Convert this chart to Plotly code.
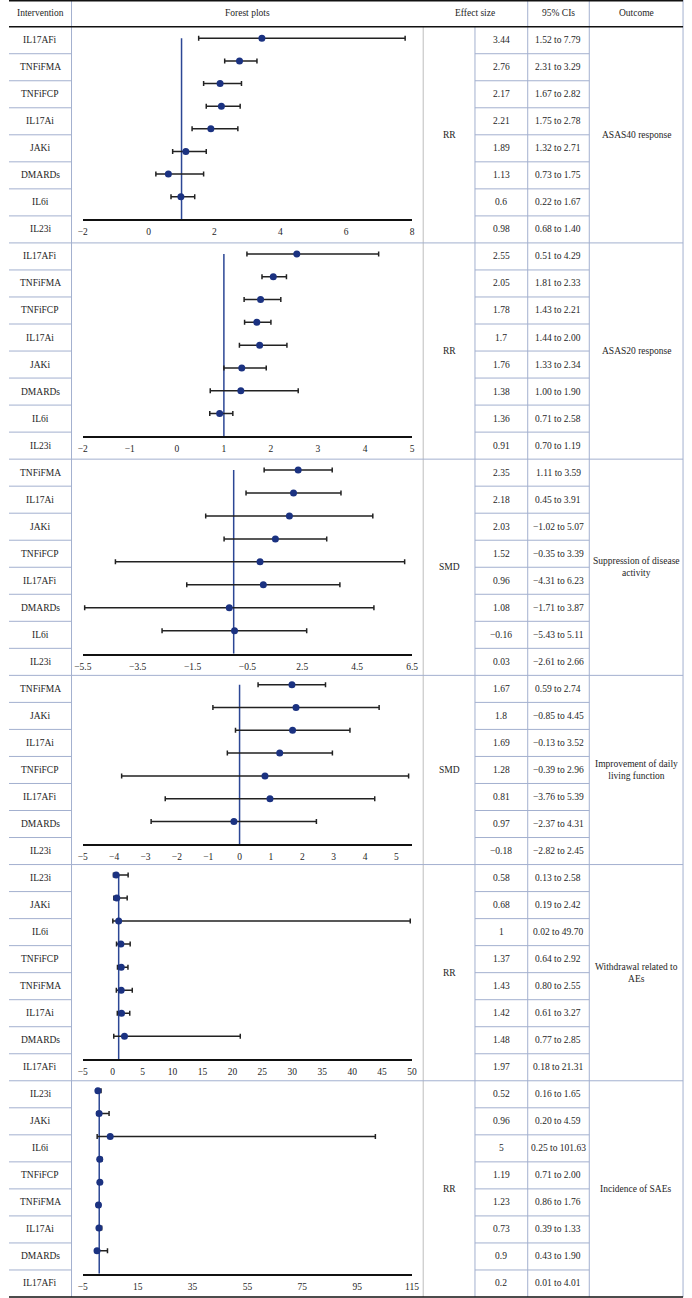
import plotly.graph_objects as go
import numpy as np

# ---------------- data ----------------
outcomes = ["ASAS40 response", "ASAS20 response",
            "Suppression of disease<br>activity",
            "Improvement of daily<br>living function",
            "Withdrawal related to<br>AEs", "Incidence of SAEs"]
measures = ["RR", "RR", "SMD", "SMD", "RR", "RR"]

p1_names = ["IL17AFi", "TNFiFMA", "TNFiFCP", "IL17Ai", "JAKi", "DMARDs", "IL6i", "IL23i"]
p1_eff_txt = ["3.44", "2.76", "2.17", "2.21", "1.89", "1.13", "0.6", "0.98"]
p1_ci_txt = ["1.52 to 7.79", "2.31 to 3.29", "1.67 to 2.82", "1.75 to 2.78",
             "1.32 to 2.71", "0.73 to 1.75", "0.22 to 1.67", "0.68 to 1.40"]
p1_est = [3.44, 2.76, 2.17, 2.21, 1.89, 1.13, 0.6, 0.98]
p1_lo = [1.52, 2.31, 1.67, 1.75, 1.32, 0.73, 0.22, 0.68]
p1_hi = [7.79, 3.29, 2.82, 2.78, 2.71, 1.75, 1.67, 1.40]

p2_names = ["IL17AFi", "TNFiFMA", "TNFiFCP", "IL17Ai", "JAKi", "DMARDs", "IL6i", "IL23i"]
p2_eff_txt = ["2.55", "2.05", "1.78", "1.7", "1.76", "1.38", "1.36", "0.91"]
p2_ci_txt = ["0.51 to 4.29", "1.81 to 2.33", "1.43 to 2.21", "1.44 to 2.00",
             "1.33 to 2.34", "1.00 to 1.90", "0.71 to 2.58", "0.70 to 1.19"]
p2_est = [2.55, 2.05, 1.78, 1.7, 1.76, 1.38, 1.36, 0.91]
p2_lo = [1.49, 1.81, 1.43, 1.44, 1.33, 1.00, 0.71, 0.70]
p2_hi = [4.29, 2.33, 2.21, 2.00, 2.34, 1.90, 2.58, 1.19]

p3_names = ["TNFiFMA", "IL17Ai", "JAKi", "TNFiFCP", "IL17AFi", "DMARDs", "IL6i", "IL23i"]
p3_eff_txt = ["2.35", "2.18", "2.03", "1.52", "0.96", "1.08", "\u22120.16", "0.03"]
p3_ci_txt = ["1.11 to 3.59", "0.45 to 3.91", "\u22121.02 to 5.07", "\u22120.35 to 3.39",
             "\u22124.31 to 6.23", "\u22121.71 to 3.87", "\u22125.43 to 5.11", "\u22122.61 to 2.66"]
p3_est = [2.35, 2.18, 2.03, 1.52, 0.96, 1.08, -0.16, 0.03]
p3_lo = [1.11, 0.45, -1.02, -0.35, -4.31, -1.71, -5.43, -2.61]
p3_hi = [3.59, 3.91, 5.07, 3.39, 6.23, 3.87, 5.11, 2.66]

p4_names = ["TNFiFMA", "JAKi", "IL17Ai", "TNFiFCP", "IL17AFi", "DMARDs", "IL23i"]
p4_eff_txt = ["1.67", "1.8", "1.69", "1.28", "0.81", "0.97", "\u22120.18"]
p4_ci_txt = ["0.59 to 2.74", "\u22120.85 to 4.45", "\u22120.13 to 3.52", "\u22120.39 to 2.96",
             "\u22123.76 to 5.39", "\u22122.37 to 4.31", "\u22122.82 to 2.45"]
p4_est = [1.67, 1.8, 1.69, 1.28, 0.81, 0.97, -0.18]
p4_lo = [0.59, -0.85, -0.13, -0.39, -3.76, -2.37, -2.82]
p4_hi = [2.74, 4.45, 3.52, 2.96, 5.39, 4.31, 2.45]

p5_names = ["IL23i", "JAKi", "IL6i", "TNFiFCP", "TNFiFMA", "IL17Ai", "DMARDs", "IL17AFi"]
p5_eff_txt = ["0.58", "0.68", "1", "1.37", "1.43", "1.42", "1.48", "1.97"]
p5_ci_txt = ["0.13 to 2.58", "0.19 to 2.42", "0.02 to 49.70", "0.64 to 2.92",
             "0.80 to 2.55", "0.61 to 3.27", "0.77 to 2.85", "0.18 to 21.31"]
p5_est = [0.58, 0.68, 1, 1.37, 1.43, 1.42, 1.48, 1.97]
p5_lo = [0.13, 0.19, 0.02, 0.64, 0.80, 0.61, 0.77, 0.18]
p5_hi = [2.58, 2.42, 49.70, 2.92, 2.55, 3.27, 2.85, 21.31]

p6_names = ["IL23i", "JAKi", "IL6i", "TNFiFCP", "TNFiFMA", "IL17Ai", "DMARDs", "IL17AFi"]
p6_eff_txt = ["0.52", "0.96", "5", "1.19", "1.23", "0.73", "0.9", "0.2"]
p6_ci_txt = ["0.16 to 1.65", "0.20 to 4.59", "0.25 to 101.63", "0.71 to 2.00",
             "0.86 to 1.76", "0.39 to 1.33", "0.43 to 1.90", "0.01 to 4.01"]
p6_est = [0.52, 0.96, 5, 1.19, 1.23, 0.73, 0.9, 0.2]
p6_lo = [0.16, 0.20, 0.25, 0.71, 0.86, 0.39, 0.43, 0.01]
p6_hi = [1.65, 4.59, 101.63, 2.00, 1.76, 1.33, 1.90, 4.01]

ref_values = [1, 1, 0, 0, 1, 1]

x_ranges = [[-2, 8], [-2, 5], [-5.5, 6.5], [-5, 5.5], [-5, 50], [-5, 115]]
x_tickvals = [[-2, 0, 2, 4, 6, 8],
              [-2, -1, 0, 1, 2, 3, 4, 5],
              [-5.5, -3.5, -1.5, 0.5, 2.5, 4.5, 6.5],
              [-5, -4, -3, -2, -1, 0, 1, 2, 3, 4, 5],
              [-5, 0, 5, 10, 15, 20, 25, 30, 35, 40, 45, 50],
              [-5, 15, 35, 55, 75, 95, 115]]
x_ticktext = [["\u22122", "0", "2", "4", "6", "8"],
              ["\u22122", "\u22121", "0", "1", "2", "3", "4", "5"],
              ["\u22125.5", "\u22123.5", "\u22121.5", "\u22120.5", "2.5", "4.5", "6.5"],
              ["\u22125", "\u22124", "\u22123", "\u22122", "\u22121", "0", "1", "2", "3", "4", "5"],
              ["\u22125", "0", "5", "10", "15", "20", "25", "30", "35", "40", "45", "50"],
              ["\u22125", "15", "35", "55", "75", "95", "115"]]

headers = ["Intervention", "Forest plots", "Effect size", "95% CIs", "Outcome"]

panels = [
    (p1_names, p1_eff_txt, p1_ci_txt, p1_est, p1_lo, p1_hi),
    (p2_names, p2_eff_txt, p2_ci_txt, p2_est, p2_lo, p2_hi),
    (p3_names, p3_eff_txt, p3_ci_txt, p3_est, p3_lo, p3_hi),
    (p4_names, p4_eff_txt, p4_ci_txt, p4_est, p4_lo, p4_hi),
    (p5_names, p5_eff_txt, p5_ci_txt, p5_est, p5_lo, p5_hi),
    (p6_names, p6_eff_txt, p6_ci_txt, p6_est, p6_lo, p6_hi),
]

# ---------------- layout geometry (pixels) ----------------
W, H = 692, 1298
HEAD = 26.7
BOTTOM = 1297.0
n_total = sum(len(p[0]) for p in panels)
ROW = (BOTTOM - HEAD) / n_total
COL_X = [0, 64, 424, 477, 531, 594, 690]
PLOT_X = (75.5, 412.6)
# first point pixel, axis pixel for each panel
PLOT_Y = [(38.3, 219.3), (254.0, 436.3), (470.0, 653.7),
          (684.7, 844.3), (875.0, 1059.3), (1090.7, 1273.7)]

FONT = "Liberation Serif"
TXT = "#1e1e1e"
BLUE_LINE = "#a3b0cf"
GRAY_LINE = "#bdbdbd"
DOT = "#1b3281"
REF = "#2c4795"


def px(x):
    return x / W


def py(y):
    return 1 - y / H


fig = go.Figure()
shapes = []
annotations = []


def ann(text, x, y, size=9.5):
    annotations.append(dict(text=text, x=px(x), y=py(y), xref="paper", yref="paper",
                            showarrow=False, xanchor="center", yanchor="middle",
                            font=dict(family=FONT, size=size, color=TXT)))


def hline(y, x0, x1, color, width=1):
    shapes.append(dict(type="line", xref="paper", yref="paper",
                       x0=px(x0), x1=px(x1), y0=py(y), y1=py(y),
                       line=dict(color=color, width=width), layer="below"))


def vline(x, y0, y1, color, width=1):
    shapes.append(dict(type="line", xref="paper", yref="paper",
                       x0=px(x), x1=px(x), y0=py(y0), y1=py(y1),
                       line=dict(color=color, width=width), layer="below"))


# header
hx = [(COL_X[0] + COL_X[1]) / 2, (COL_X[1] + COL_X[2]) / 2, (COL_X[2] + COL_X[4]) / 2,
      (COL_X[4] + COL_X[5]) / 2, (COL_X[5] + COL_X[6]) / 2]
for t, x in zip(headers, hx):
    ann(t, x, HEAD / 2)

# vertical lines
vline(COL_X[1], 0, BOTTOM, BLUE_LINE)
vline(COL_X[4], 0, BOTTOM, BLUE_LINE)
vline(COL_X[5], 0, BOTTOM, BLUE_LINE)
vline(COL_X[6], 0, BOTTOM, BLUE_LINE)
vline(COL_X[2], HEAD, BOTTOM, GRAY_LINE)
vline(COL_X[3], HEAD, BOTTOM, BLUE_LINE)

row = 0
for pi, (names, eff_txt, ci_txt, est, lo, hi) in enumerate(panels):
    n = len(names)
    top = HEAD + row * ROW
    bot = HEAD + (row + n) * ROW
    for i in range(n):
        yc = HEAD + (row + i + 0.5) * ROW
        ann(names[i], hx[0], yc)
        ann(eff_txt[i], (COL_X[3] + COL_X[4]) / 2, yc)
        ann(ci_txt[i], hx[3], yc)
        if i > 0:
            yl = HEAD + (row + i) * ROW
            hline(yl, COL_X[0], COL_X[1], BLUE_LINE)
            hline(yl, COL_X[3], COL_X[5], BLUE_LINE)
    if pi > 0:
        hline(top, 0, COL_X[6], BLUE_LINE)
    ann(measures[pi], (COL_X[2] + COL_X[3]) / 2, (top + bot) / 2)
    ann(outcomes[pi], hx[4], (top + bot) / 2)

    # forest plot axes
    first, axis_px = PLOT_Y[pi]
    s = (axis_px - first) / n
    dom_top = first - 0.5 * s
    k = pi + 1
    xa = "x" if k == 1 else f"x{k}"
    ya = "y" if k == 1 else f"y{k}"
    yvals = np.arange(1, n + 1)
    est_a = np.array(est, dtype=float)
    lo_a = np.array(lo, dtype=float)
    hi_a = np.array(hi, dtype=float)
    # reference line
    fig.add_trace(go.Scatter(x=[ref_values[pi], ref_values[pi]], y=[1, n + 1],
                             mode="lines", line=dict(color=REF, width=1.5),
                             xaxis=xa, yaxis=ya, showlegend=False, hoverinfo="skip"))
    fig.add_trace(go.Scatter(x=est_a, y=yvals, mode="markers",
                             marker=dict(color=DOT, size=7),
                             error_x=dict(type="data", symmetric=False,
                                          array=hi_a - est_a, arrayminus=est_a - lo_a,
                                          color="#222222", thickness=1.5, width=2.5),
                             xaxis=xa, yaxis=ya, showlegend=False))
    xkey = "xaxis" if k == 1 else f"xaxis{k}"
    ykey = "yaxis" if k == 1 else f"yaxis{k}"
    fig.update_layout(**{
        xkey: dict(domain=[px(PLOT_X[0]), px(PLOT_X[1])], anchor=ya,
                   range=x_ranges[pi], tickvals=x_tickvals[pi], ticktext=x_ticktext[pi],
                   showgrid=False, zeroline=False, showline=True, linecolor="#111111",
                   linewidth=1.5, ticks="outside", ticklen=3, tickcolor="rgba(0,0,0,0)",
                   tickfont=dict(family=FONT, size=9.5, color=TXT), fixedrange=True),
        ykey: dict(domain=[py(axis_px), py(dom_top)], anchor=xa,
                   range=[n + 1, 0.5], visible=False, showgrid=False,
                   zeroline=False, fixedrange=True),
    })
    row += n

# outer black borders
shapes.append(dict(type="line", xref="paper", yref="paper", x0=0, x1=px(COL_X[6]),
                   y0=py(0.8), y1=py(0.8), line=dict(color="#111111", width=1.5)))
shapes.append(dict(type="line", xref="paper", yref="paper", x0=0, x1=px(COL_X[6]),
                   y0=py(HEAD), y1=py(HEAD), line=dict(color="#111111", width=1.5)))
shapes.append(dict(type="line", xref="paper", yref="paper", x0=0, x1=px(COL_X[6]),
                   y0=py(BOTTOM), y1=py(BOTTOM), line=dict(color="#111111", width=1.5)))

fig.update_layout(width=W, height=H, margin=dict(l=0, r=0, t=0, b=0),
                  paper_bgcolor="white", plot_bgcolor="rgba(0,0,0,0)",
                  shapes=shapes, annotations=annotations, showlegend=False)

fig.write_html("out.html", config={"displayModeBar": False},
               post_script="document.body.style.margin='0';document.body.style.padding='0';")
